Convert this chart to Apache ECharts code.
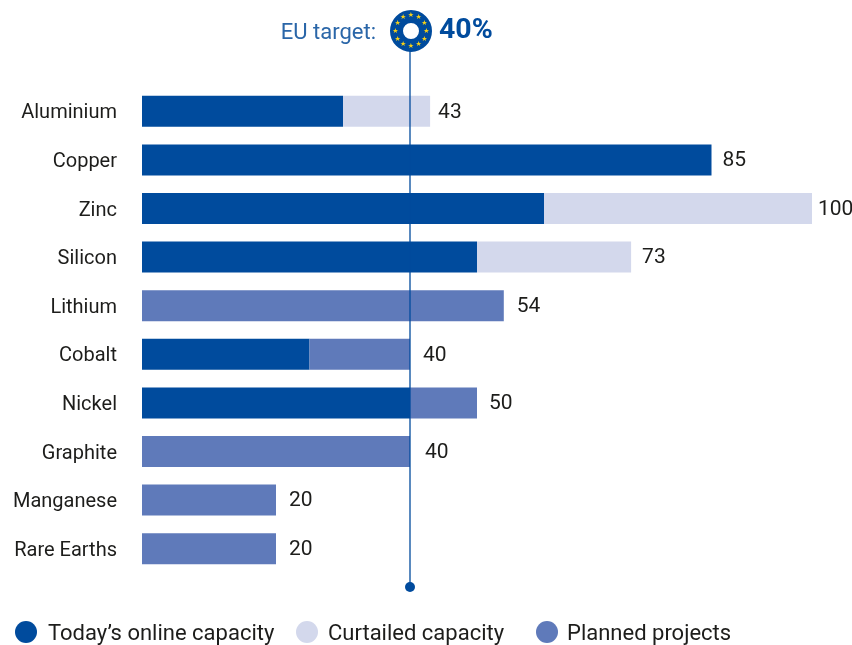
<!DOCTYPE html>
<html><head><meta charset="utf-8">
<style>html,body{margin:0;padding:0;background:#fff}#c{width:852px;height:645px}</style>
<script src="https://cdn.jsdelivr.net/npm/echarts@6/dist/echarts.min.js"></script>
</head><body><div id="c"></div>
<script>
const categories = ["Aluminium","Copper","Zinc","Silicon","Lithium","Cobalt","Nickel","Graphite","Manganese","Rare Earths"];
const online = [30,85,60,50,0,25,40,0,0,0];
const curtailed = [13,0,40,23,0,0,0,0,0,0];
const planned = [0,0,0,0,54,15,10,40,20,20];
const totals = [43,85,100,73,54,40,50,40,20,20];
const euTarget = 40;
const seriesNames = ["Today’s online capacity","Curtailed capacity","Planned projects"];
const labelGaps = [8,11,6,11,13,13,12,15,13,13];

const FONT = "Roboto";
const DARK="#004b9d", LIGHT="#d3d8ec", MID="#5f7aba", TXT="#1d1d1b";
const cx=411, cy=31;
const stars=[];
for(let i=0;i<12;i++){
  const a=i*Math.PI/6, r=15.5;
  stars.push({type:'text',silent:true,style:{text:'★',x:cx+r*Math.sin(a),y:cy-r*Math.cos(a),fill:'#f7d117',font:'7px "DejaVu Sans"',align:'center',verticalAlign:'middle'},z:30});
}
const chart = echarts.init(document.getElementById('c'),null,{renderer:'canvas'});
const bar=(i,data,color)=>({name:seriesNames[i],type:'bar',stack:'t',data,barWidth:31,itemStyle:{color},xAxisIndex:0,yAxisIndex:0,silent:true,z:2});
const legendAt=(i,left,pad)=>({data:[{name:seriesNames[i],icon:'circle'}],left,top:621,itemWidth:22,itemHeight:22,itemGap:0,padding:0,selectedMode:false,
  formatter:'{a|{name}}',
  textStyle:{rich:{a:{fontFamily:FONT,fontSize:22,color:TXT,padding:[5,0,0,pad]}}}});
chart.setOption({
  animation:false,
  textStyle:{fontFamily:FONT},
  grid:[
    {left:142,top:87,width:670,height:486},
    {left:142,top:31,width:670,height:556}
  ],
  xAxis:[
    {gridIndex:0,type:'value',min:0,max:100,show:false},
    {gridIndex:1,type:'value',min:0,max:100,show:false}
  ],
  yAxis:[
    {gridIndex:0,type:'category',inverse:true,data:categories,axisLine:{show:false},axisTick:{show:false},
     axisLabel:{margin:25,formatter:'{a|{value}}',rich:{a:{fontFamily:FONT,fontSize:20,color:TXT,padding:[4,0,0,0]}}}},
    {gridIndex:1,type:'value',min:0,max:1,show:false}
  ],
  legend:[legendAt(0,15,6),legendAt(1,296,5),legendAt(2,536,4)],
  series:[
    bar(0,online,DARK),bar(1,curtailed,LIGHT),bar(2,planned,MID),
    {type:'scatter',xAxisIndex:0,yAxisIndex:0,symbolSize:0,silent:true,z:5,itemStyle:{opacity:1},
     data:totals.map((v,i)=>({value:[v,categories[i]],label:{distance:labelGaps[i]}})),
     label:{show:true,position:'right',offset:[0,1],formatter:p=>p.value[0],fontFamily:FONT,fontSize:21,color:TXT,opacity:1}},
    {type:'line',xAxisIndex:1,yAxisIndex:1,silent:true,z:6,showSymbol:true,symbolSize:10,
     data:[{value:[euTarget,0],symbol:'circle'},{value:[euTarget,1],symbol:'none'}],
     lineStyle:{color:DARK,width:1.3},itemStyle:{color:DARK}}
  ],
  graphic:[
    {type:'circle',silent:true,shape:{cx,cy,r:14.5},style:{fill:'#fff',stroke:DARK,lineWidth:13},z:25},
    ...stars,
    {type:'text',silent:true,style:{text:'EU target:',x:376,y:33,align:'right',verticalAlign:'middle',fill:'#2a66a8',font:'22px '+FONT},z:30},
    {type:'text',silent:true,style:{text:euTarget+'%',x:439,y:31,align:'left',verticalAlign:'middle',fill:DARK,font:'bold 28.5px '+FONT},z:30}
  ]
});
</script></body></html>
